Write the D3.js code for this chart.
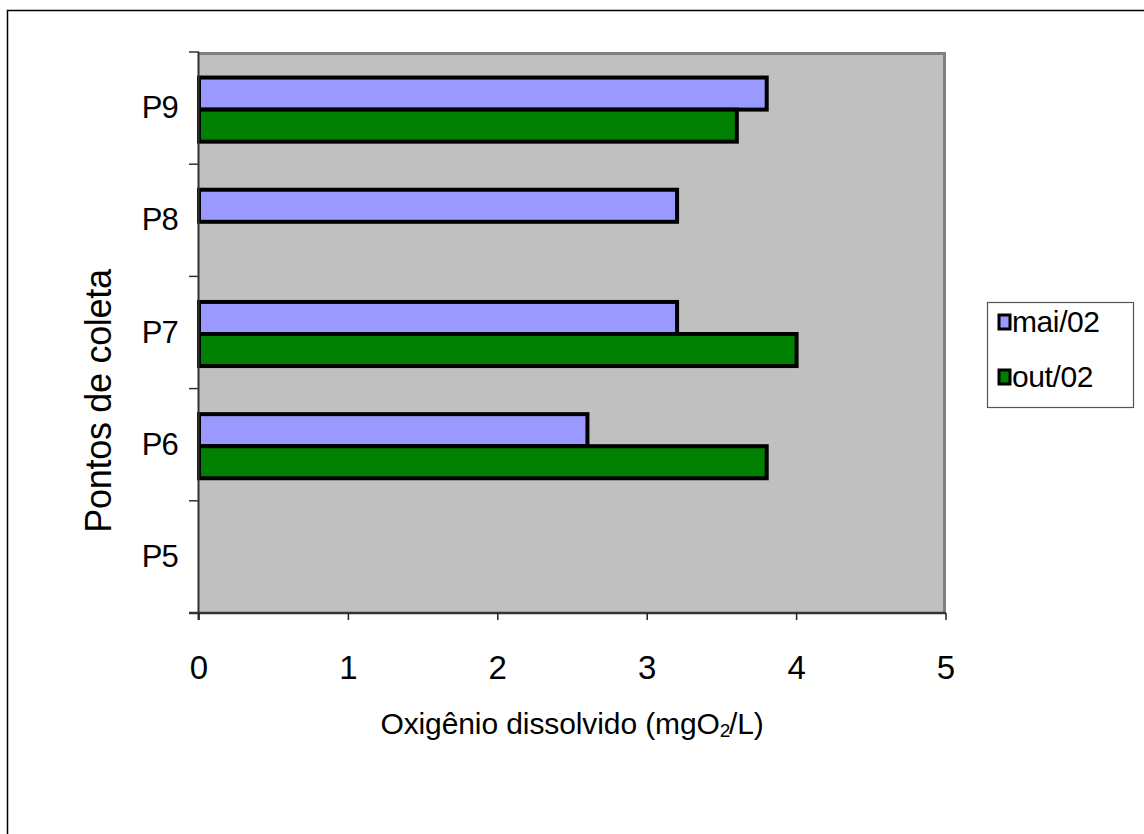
<!DOCTYPE html>
<html>
<head>
<meta charset="utf-8">
<script src="https://cdn.jsdelivr.net/npm/d3@7"></script>
<style>
  html, body { margin: 0; padding: 0; background: #fff; }
  svg { display: block; font-family: "Liberation Sans", Arial, sans-serif; }
</style>
</head>
<body>
<svg id="chart" width="1144" height="834"></svg>
<script>
// Sampling points, bottom to top
const categories = ["P5", "P6", "P7", "P8", "P9"];
// Dissolved oxygen (mgO2/L) per campaign; null = no measurement
const seriesNames = ["mai/02", "out/02"];
const maiValues = [null, 2.6, 3.2, 3.2, 3.8];
const outValues = [null, 3.8, 4.0, null, 3.6];
const xTicks = [0, 1, 2, 3, 4, 5];
const colors = ["#9999FF", "#008000"];

const svg = d3.select("#chart");

// outer chart frame (extends past the bottom/right edge)
svg.append("rect")
  .attr("x", 7.5).attr("y", 10.5)
  .attr("width", 1160).attr("height", 840)
  .attr("fill", "#fff").attr("stroke", "#000").attr("stroke-width", 1.5);

const plot = { left: 199, right: 946, top: 52, bottom: 613 };

const x = d3.scaleLinear().domain([0, 5]).range([plot.left, plot.right]);
const y = d3.scaleBand().domain(categories.slice().reverse())
  .range([plot.top, plot.bottom]).paddingInner(0).paddingOuter(0);

// plot background
svg.append("rect")
  .attr("x", plot.left).attr("y", plot.top)
  .attr("width", plot.right - plot.left).attr("height", plot.bottom - plot.top)
  .attr("fill", "#C0C0C0");

// gray frame on top and right
svg.append("path")
  .attr("d", `M${plot.left},${plot.top + 1.5} H${plot.right - 1.5} V${plot.bottom}`)
  .attr("fill", "none").attr("stroke", "#808080").attr("stroke-width", 3);

// bars
const rows = categories.map((c, i) => ({ cat: c, vals: [maiValues[i], outValues[i]] }));
const bw = y.bandwidth();
const barH = bw / 3.5;
const groupOffset = (bw - 2 * barH) / 2 + 1.5;

rows.forEach(r => {
  r.vals.forEach((v, s) => {
    if (v == null) return;
    svg.append("rect")
      .attr("x", x(0))
      .attr("y", y(r.cat) + groupOffset + s * barH)
      .attr("width", x(v) - x(0))
      .attr("height", barH)
      .attr("fill", colors[s])
      .attr("stroke", "#000")
      .attr("stroke-width", 4);
  });
});

// y axis
const yAxisG = svg.append("g");
yAxisG.append("line")
  .attr("x1", plot.left - 0.5).attr("x2", plot.left - 0.5)
  .attr("y1", plot.top).attr("y2", plot.bottom + 7)
  .attr("stroke", "#333").attr("stroke-width", 2);
const yTickPos = d3.range(categories.length + 1).map(i => plot.top + i * bw);
yAxisG.selectAll("line.tk").data(yTickPos).join("line")
  .attr("class", "tk")
  .attr("x1", plot.left - 10).attr("x2", plot.left)
  .attr("y1", d => d).attr("y2", d => d)
  .attr("stroke", "#333").attr("stroke-width", 1.5);
yAxisG.selectAll("text").data(categories).join("text")
  .attr("x", 178)
  .attr("y", d => y(d) + bw / 2 + 10)
  .attr("text-anchor", "end")
  .attr("font-size", 31)
  .attr("letter-spacing", -0.8)
  .text(d => d);

// x axis
const xAxisG = svg.append("g");
xAxisG.append("line")
  .attr("x1", plot.left - 10).attr("x2", plot.right)
  .attr("y1", plot.bottom).attr("y2", plot.bottom)
  .attr("stroke", "#333").attr("stroke-width", 2.5);
xAxisG.selectAll("line.tk").data(xTicks).join("line")
  .attr("class", "tk")
  .attr("x1", d => x(d)).attr("x2", d => x(d))
  .attr("y1", plot.bottom).attr("y2", plot.bottom + 7)
  .attr("stroke", "#222").attr("stroke-width", 1.5);
xAxisG.selectAll("text").data(xTicks).join("text")
  .attr("x", d => x(d))
  .attr("y", 679)
  .attr("text-anchor", "middle")
  .attr("font-size", 33)
  .text(d => d);

// axis titles
const xt = svg.append("text")
  .attr("x", 572).attr("y", 734)
  .attr("text-anchor", "middle")
  .attr("font-size", 30)
  .attr("letter-spacing", -0.1);
xt.append("tspan").text("Oxigênio dissolvido (mgO");
xt.append("tspan").attr("font-size", 19).attr("dy", 3).attr("letter-spacing", -1.5).text("2");
xt.append("tspan").attr("dy", -3).text("/L)");

svg.append("text")
  .attr("transform", "translate(111,401) rotate(-90)")
  .attr("text-anchor", "middle")
  .attr("font-size", 36)
  .attr("letter-spacing", -0.3)
  .text("Pontos de coleta");

// legend
const lg = svg.append("g");
lg.append("rect")
  .attr("x", 987.5).attr("y", 302.5)
  .attr("width", 146).attr("height", 105)
  .attr("fill", "#fff").attr("stroke", "#555").attr("stroke-width", 1.2);
seriesNames.forEach((name, i) => {
  const cy = 322 + i * 55;
  lg.append("rect")
    .attr("x", 999).attr("y", cy - 7)
    .attr("width", 11).attr("height", 14)
    .attr("fill", colors[i]).attr("stroke", "#000").attr("stroke-width", 3);
  lg.append("text")
    .attr("x", 1012).attr("y", cy + 10)
    .attr("font-size", 30)
    .attr("letter-spacing", -0.4)
    .text(name);
});
</script>
</body>
</html>
